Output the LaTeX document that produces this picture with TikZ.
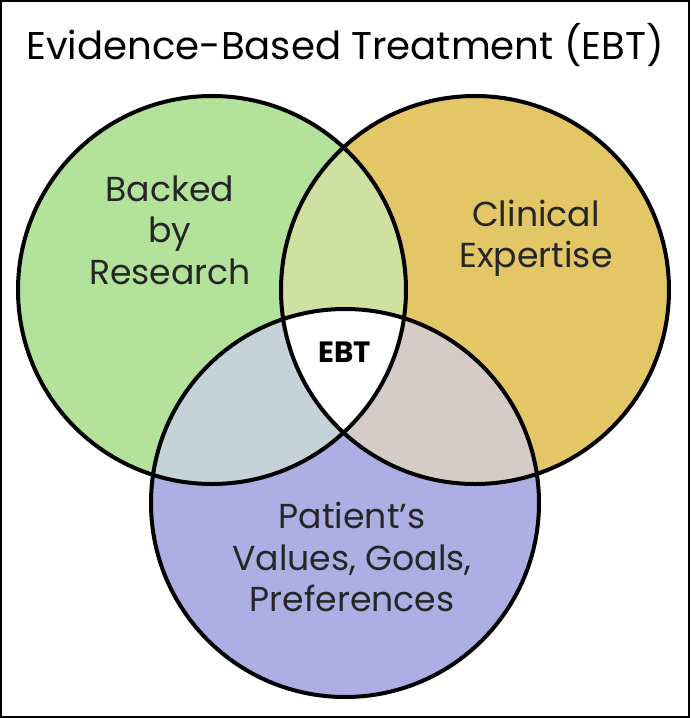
\documentclass[tikz,border=0pt]{standalone}
\usepackage{fontspec}
\setmainfont{Poppins}
\begin{document}
\begin{tikzpicture}[x=0.75pt,y=-0.75pt,
  lbl/.style={align=center,font=\fontsize{26}{31}\selectfont,text=black!85},
  ring/.style={draw=black,line width=3pt}]
\useasboundingbox (0,0) rectangle (690,718);
\draw[line width=1.5pt] (1,1) rectangle (689,717);
\coordinate (A) at (212,290);
\coordinate (B) at (475,290);
\coordinate (C) at (345,503);
\def\r{194}
\fill[fill={rgb,255:red,179;green,226;blue,154}] (A) circle (\r);
\fill[fill={rgb,255:red,227;green,199;blue,102}] (B) circle (\r);
\fill[fill={rgb,255:red,173;green,174;blue,227}] (C) circle (\r);
\begin{scope}\clip (A) circle (\r);
 \fill[fill={rgb,255:red,207;green,224;blue,160}] (B) circle (\r);
 \fill[fill={rgb,255:red,197;green,210;blue,216}] (C) circle (\r);
\end{scope}
\begin{scope}\clip (B) circle (\r);
 \fill[fill={rgb,255:red,213;green,203;blue,201}] (C) circle (\r);
\end{scope}
\begin{scope}\clip (A) circle (\r);\clip (B) circle (\r);
 \fill[white] (C) circle (\r);
\end{scope}
\draw[ring] (A) circle (\r);
\draw[ring] (B) circle (\r);
\draw[ring] (C) circle (\r);
\node[font=\fontsize{29}{32}\selectfont] (title) at (345,45) {Evidence-Based Treatment (EBT)};
\node[lbl] (res) at (170,230) {Backed\\by\\Research};
\node[lbl] (cli) at (536,238) {Clinical\\Expertise};
\node[lbl] (pat) at (352,557) {Patient’s\\Values, Goals,\\Preferences};
\node[font=\bfseries\fontsize{22}{24}\selectfont] (ebt) at (345,352) {EBT};
\end{tikzpicture}
\end{document}
